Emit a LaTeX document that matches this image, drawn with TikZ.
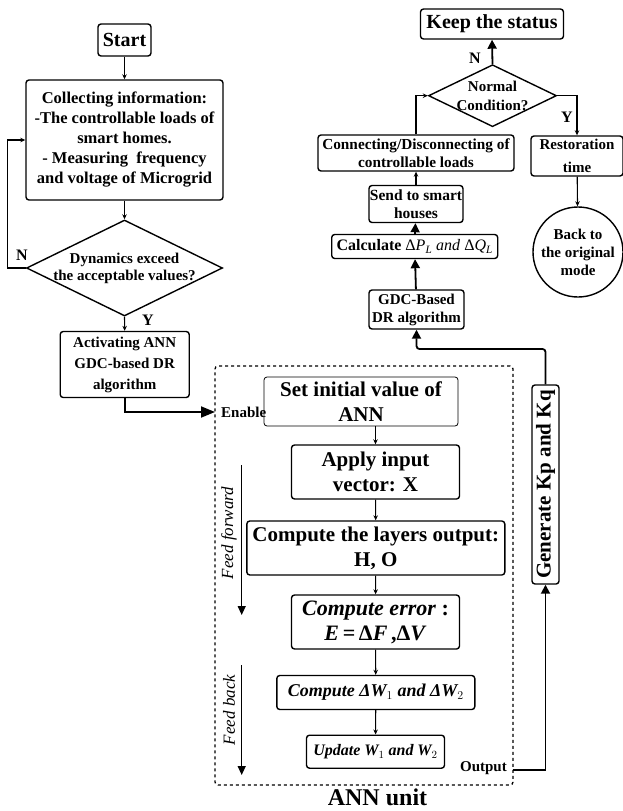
\documentclass[tikz,border=0pt]{standalone}
\usepackage{fontspec}
\setmainfont{Liberation Serif}
\usepackage{amsmath}
\usetikzlibrary{shapes.geometric,arrows.meta}
\newcommand{\fsize}[2]{\fontsize{#1}{#2}\selectfont}
\tikzset{
  box/.style={draw, line width=1.4pt, rounded corners=3pt, align=center, inner sep=0pt, font=\bfseries\fsize{15}{18}},
  decision/.style={draw, diamond, line width=1.4pt, inner sep=0pt},
  flowline/.style={line width=1.1pt, -{Stealth[length=5pt,width=4.5pt]}},
  bigline/.style={line width=1.8pt, -{Triangle[length=9pt,width=9pt]}},
  lbl/.style={font=\bfseries\fsize{16}{18}, inner sep=0pt},
}
\begin{document}
\begin{tikzpicture}[x=1pt,y=-1pt]
\useasboundingbox (0,0) rectangle (623,811);

\node[box, minimum width=53, minimum height=32, font=\bfseries\fsize{20}{24}] (start) at (124.5,40) {Start};
\node[box, minimum width=197, minimum height=120, font=\bfseries\fsize{16.5}{20}] (collect) at (124.5,140) {Collecting information:\\-The controllable loads of\\smart homes.\\- Measuring~~frequency\\and voltage of Microgrid};
\node[decision, minimum width=196, minimum height=96] (dyn) at (124.5,268) {};
\node[align=center, font=\bfseries\fsize{15}{17}, inner sep=0pt] (dyntext) at (dyn) {Dynamics exceed\\the acceptable values?};
\node[box, minimum width=129, minimum height=66, font=\bfseries\fsize{15}{21}] (act) at (124.7,364.5) {Activating ANN\\GDC-based DR\\algorithm};

\node[draw, dashed, line width=1.3pt, rounded corners=3pt, minimum width=298, minimum height=419] (ann) at (364,575.5) {};
\node[box, line width=0.8pt, minimum width=194, minimum height=49, font=\bfseries\fsize{21}{25}] (init) at (361,401.5) {Set initial value of\\ANN};
\node[box, minimum width=168, minimum height=54, font=\bfseries\fsize{21}{25}] (apply) at (375.5,472) {Apply input\\vector: X};
\node[box, minimum width=258, minimum height=54, font=\bfseries\fsize{21}{25}] (layers) at (375.8,548) {Compute the layers output:\\H, O};
\node[box, minimum width=168, minimum height=54, font=\bfseries\fsize{22}{25}] (err) at (375.5,622) {\textit{Compute error} :\\\textit{E}\,=\,Δ\textit{F}\,,Δ\textit{V}};
\node[box, minimum width=198, minimum height=34, font=\bfseries\itshape\fsize{18}{20}] (dw) at (375.8,692.5) {Compute Δ\textit{W}$_{1}$ and Δ\textit{W}$_{2}$};
\node[box, minimum width=138, minimum height=33, font=\bfseries\itshape\fsize{16}{18}] (upd) at (375.5,751.7) {Update \textit{W}$_{1}$ and \textit{W}$_{2}$};

\node[box, minimum width=27, minimum height=199, font=\bfseries\fsize{21}{24}] (gen) at (545.5,484.5) {\rotatebox{90}{Generate Kp and Kq}};
\node[box, minimum width=95, minimum height=39] (gdc) at (416.5,309.5) {GDC-Based\\DR algorithm};
\node[box, minimum width=166, minimum height=24, font=\bfseries\fsize{16}{18}] (calc) at (414.7,246.5) {Calculate {\mdseries Δ\textit{P}$_{\mathit{L}}$ \textit{and} Δ\textit{Q}$_{\mathit{L}}$}};
\node[box, minimum width=94, minimum height=37, font=\bfseries\fsize{15.5}{18}] (send) at (416,204) {Send to smart\\houses};
\node[box, minimum width=196, minimum height=36, font=\bfseries\fsize{15.3}{18}] (conn) at (416,153) {Connecting/Disconnecting of\\controllable loads};
\node[decision, minimum width=128, minimum height=62] (norm) at (492.5,95.7) {};
\node[align=center, font=\bfseries\fsize{15}{19}, inner sep=0pt] (normtext) at (norm) {Normal\\Condition?};
\node[box, minimum width=143, minimum height=30, font=\bfseries\fsize{20}{24}] (keep) at (492,24) {Keep the status};
\node[box, minimum width=92, minimum height=40, font=\bfseries\fsize{15}{23}] (rest) at (577,156) {Restoration\\time};
\node[draw, circle, line width=1.4pt, minimum size=90, inner sep=0pt, align=center, font=\bfseries\fsize{15}{18}] (back) at (578,252) {Back to\\the original\\mode};

\coordinate (enin) at (215,412);
\coordinate (outp) at (513,770);
\coordinate (ffa) at (241.7,465);
\coordinate (ffb) at (241.7,615);
\coordinate (fba) at (241.7,665);
\coordinate (fbb) at (241.7,775);

\draw[flowline] (start) -- (collect);
\draw[flowline] (collect) -- (dyn);
\draw[flowline] (dyn.west) -- ++(-18,0) |- (collect.west);
\draw[flowline] (dyn.south) -- (act.north);
\draw[line width=1.8pt, -{Triangle[length=14pt,width=11pt]}] (act.south) |- (enin);
\draw[flowline] (apply.north |- init.south) -- (apply.north);
\draw[flowline] (apply) -- (layers);
\draw[flowline] (layers) -- (err);
\draw[flowline] (err) -- (dw);
\draw[flowline] (dw) -- (upd);
\draw[bigline] (outp) -| (gen.south);
\draw[bigline, rounded corners=3pt] (gen.north) -- (gen.north |- 0,349) -| (gdc.south);
\draw[bigline] (gdc) -- (calc);
\draw[bigline] (calc) -- (send);
\draw[flowline] (send) -- (conn);
\draw[flowline] (conn.north) |- (norm.west);
\draw[bigline] (norm.north) -- (keep.south);
\draw[flowline] (norm.east) -| (rest.north);
\draw[flowline] (rest) -- (back);
\draw[line width=1.3pt, -{Triangle[length=9pt,width=8pt]}] (ffa) -- (ffb);
\draw[line width=1.3pt, -{Triangle[length=9pt,width=8pt]}] (fba) -- (fbb);

\node[lbl] (nleft) at (22,255) {N};
\node[lbl] (ybot) at (148,320) {Y};
\node[lbl] (ntop) at (475,58) {N};
\node[lbl] (yright) at (567,117) {Y};
\node[lbl, font=\bfseries\fsize{15}{18}, anchor=west] (enable) at (221,412) {Enable};
\node[lbl, font=\bfseries\fsize{15}{18}, anchor=east] (output) at (507,768) {Output};
\node[lbl, font=\bfseries\fsize{24}{28}] (annlabel) at (377.5,797) {ANN unit};
\node[rotate=90, inner sep=0pt, font=\itshape\fsize{17}{20}] (fflabel) at (229,533) {Feed forward};
\node[rotate=90, inner sep=0pt, font=\itshape\fsize{17}{20}] (fblabel) at (229,710) {Feed back};
\end{tikzpicture}
\end{document}
